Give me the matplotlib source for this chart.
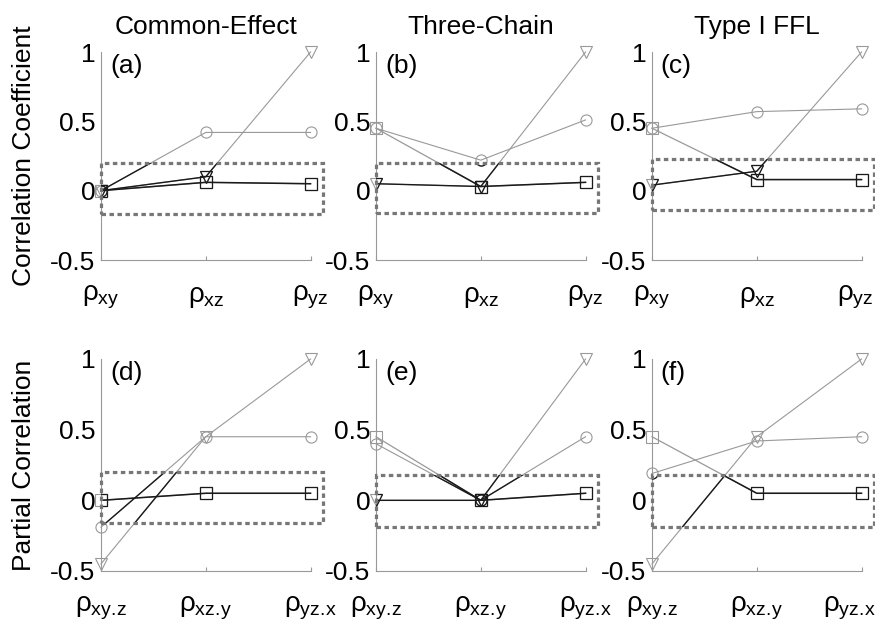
import matplotlib
matplotlib.use('Agg')
import matplotlib.pyplot as plt
from matplotlib.patches import Rectangle
from matplotlib.transforms import ScaledTranslation

plt.rcParams['font.family'] = ['Liberation Sans', 'DejaVu Sans']
plt.rcParams['mathtext.fontset'] = 'custom'
plt.rcParams['mathtext.rm'] = 'Liberation Sans'
plt.rcParams['mathtext.it'] = 'Liberation Sans'
plt.rcParams['mathtext.bf'] = 'Liberation Sans'

# column titles, row labels, panel tags
titles = ['Common-Effect', 'Three-Chain', 'Type I FFL']
row_labels = ['Correlation Coefficient', 'Partial Correlation']
tags = [['(a)', '(b)', '(c)'], ['(d)', '(e)', '(f)']]
xtick_top = [r'$\rho_{xy}$', r'$\rho_{xz}$', r'$\rho_{yz}$']
xtick_bot = [r'$\rho_{xy.\!z}$', r'$\rho_{xz.\!y}$', r'$\rho_{yz.\!x}$']

# series values, one list per panel
circle_a = [0.0, 0.42, 0.42]
tri_a = [0.0, 0.10, 1.0]
square_a = [0.0, 0.06, 0.05]

circle_b = [0.45, 0.22, 0.51]
tri_b = [0.05, 0.03, 1.0]
square_b = [0.45, 0.03, 0.06]

circle_c = [0.45, 0.57, 0.59]
tri_c = [0.04, 0.14, 1.0]
square_c = [0.45, 0.08, 0.08]

circle_d = [-0.19, 0.45, 0.45]
tri_d = [-0.45, 0.45, 1.0]
square_d = [0.0, 0.05, 0.05]

circle_e = [0.40, 0.0, 0.45]
tri_e = [0.0, 0.0, 1.0]
square_e = [0.45, 0.0, 0.05]

circle_f = [0.19, 0.42, 0.45]
tri_f = [-0.45, 0.45, 1.0]
square_f = [0.45, 0.05, 0.05]

# significance boxes (low, high) per panel
box_a = (-0.17, 0.20)
box_b = (-0.16, 0.20)
box_c = (-0.14, 0.23)
box_d = (-0.16, 0.20)
box_e = (-0.19, 0.18)
box_f = (-0.19, 0.18)

panels = [
    [(circle_a, tri_a, square_a, box_a),
     (circle_b, tri_b, square_b, box_b),
     (circle_c, tri_c, square_c, box_c)],
    [(circle_d, tri_d, square_d, box_d),
     (circle_e, tri_e, square_e, box_e),
     (circle_f, tri_f, square_f, box_f)],
]

x = [1, 2, 3]
fig = plt.figure(figsize=(8.75, 6.25), dpi=100)

lefts = [0.1154, 0.4297, 0.7451]
bottoms = [0.584, 0.0864]
heights = [0.3328, 0.3392]
w = 0.2395

light = '#999999'
dark = '#1a1a1a'
for r in range(2):
    for c in range(3):
        ax = fig.add_axes([lefts[c], bottoms[r], w, heights[r]])
        circ, tri, sq, box = panels[r][c]
        lo, hi = box

        rect = Rectangle((1, lo), 2.12, hi - lo, fill=False,
                         edgecolor='#777777', lw=2.3,
                         linestyle=(0, (1.4, 1.1)), clip_on=False, zorder=5)
        ax.add_patch(rect)

        series = [(circ, 'o', 8, 0.8), (tri, 'v', 9, 0.8), (sq, 's', 8, 0.9)]
        clip = Rectangle((1, lo), 2.12, hi - lo, transform=ax.transData)
        for vals, mk, ms, lw in series:
            ax.plot(x, vals, color=light, lw=lw, marker=mk, ms=ms,
                    mfc='none', mec=light, mew=0.8, clip_on=False, zorder=3)
            ln, = ax.plot(x, vals, color=dark, lw=lw + 0.2, marker=mk, ms=ms,
                          mfc='none', mec=dark, mew=0.9, zorder=4)
            ln.set_clip_path(clip)

        ax.set_xlim(1, 3)
        ax.set_ylim(-0.5, 1)
        ax.set_xticks(x)
        ax.set_xticklabels(xtick_top if r == 0 else xtick_bot, fontsize=20)
        ax.set_yticks([-0.5, 0, 0.5, 1])
        ax.set_yticklabels(['-0.5', '0', '0.5', '1'], fontsize=19)
        ax.tick_params(axis='x', direction='in', length=3, pad=17, color='#999999')
        ax.tick_params(axis='y', direction='in', length=0, pad=4)
        for s in ['top', 'right']:
            ax.spines[s].set_visible(False)
        for s in ['left', 'bottom']:
            ax.spines[s].set_color('#999999')
            ax.spines[s].set_linewidth(0.8)

        if c == 2:
            # keep the last label of the right column inside the figure
            lab = ax.get_xticklabels()[2]
            shift = -0.12 if r == 1 else -0.06
            lab.set_transform(lab.get_transform() +
                              ScaledTranslation(shift, 0, fig.dpi_scale_trans))

        ax.text(1.085, 0.9, tags[r][c], fontsize=19, va='center', ha='left')
        if r == 0:
            ax.set_title(titles[c], fontsize=19, pad=13)
        if c == 0:
            yc = bottoms[r] + heights[r] / 2
            fig.text(24 / 875, yc, row_labels[r], fontsize=19, rotation=90,
                     ha='center', va='center')

plt.savefig('out.png', dpi=100)
